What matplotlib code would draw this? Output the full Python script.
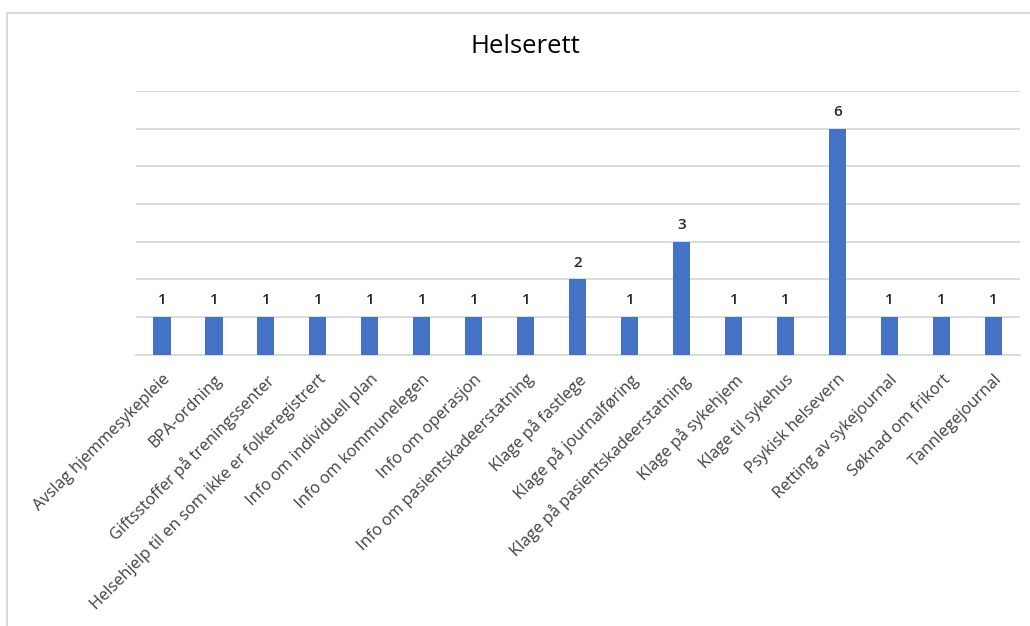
import matplotlib.pyplot as plt
from matplotlib.lines import Line2D

plt.rcParams['font.family'] = ['Open Sans', 'DejaVu Sans']

# data
kategorier = [
    "Avslag hjemmesykepleie", "BPA-ordning", "Giftsstoffer på treningssenter",
    "Helsehjelp til en som ikke er folkeregistrert", "Info om individuell plan",
    "Info om kommunelegen", "Info om operasjon", "Info om pasientskadeerstatning",
    "Klage på fastlege", "Klage på journalføring", "Klage på pasientskadeerstatning",
    "Klage på sykehjem", "Klage til sykehus", "Psykisk helsevern",
    "Retting av sykejournal", "Søknad om frikort", "Tannlegejournal",
]
antall = [1, 1, 1, 1, 1, 1, 1, 1, 2, 1, 3, 1, 1, 6, 1, 1, 1]

fig = plt.figure(figsize=(10.30, 6.26), dpi=100)
ax = fig.add_axes([0.132, 0.433, 0.858, 0.422])

x = range(len(kategorier))
bars = ax.bar(x, antall, width=0.33, color='#4472C4', zorder=3)
ax.bar_label(bars, padding=7, fontsize=11, color='#262626', fontweight='semibold')

ax.set_ylim(0, 7)
ax.set_xlim(-0.5, len(kategorier) - 0.5)
ax.set_yticks(range(0, 8))
ax.yaxis.grid(True, color='#d9d9d9', linewidth=1.3, zorder=0)
ax.tick_params(axis='y', left=False, labelleft=False)
ax.tick_params(axis='x', length=0, pad=12)
ax.set_xticks(list(x))
ax.set_xticklabels(kategorier, rotation=45, ha='right', rotation_mode='anchor',
                   fontsize=11.8, color='#404040')
for s in ['top', 'right', 'left']:
    ax.spines[s].set_visible(False)
ax.spines['bottom'].set_color('#d9d9d9')
ax.spines['bottom'].set_linewidth(1.3)

fig.text(0.51, 0.925, "Helserett", ha='center', va='center', fontsize=18.5, color='#000000')

# ramme rundt diagrammet
fig.add_artist(Line2D([7/1030, 7/1030], [0, 1 - 13/626], color='#d9d9d9', lw=1.5))
fig.add_artist(Line2D([7/1030, 1], [1 - 13/626, 1 - 13/626], color='#d9d9d9', lw=1.5))

fig.savefig('out.png', dpi=100)
